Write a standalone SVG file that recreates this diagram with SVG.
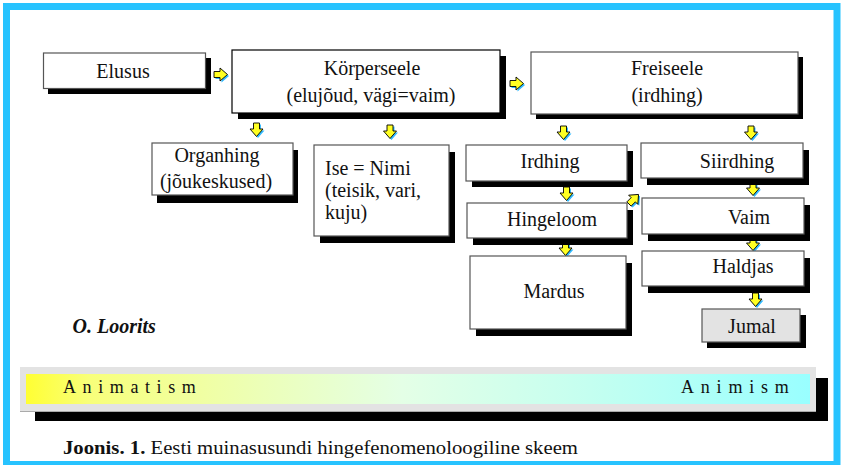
<svg xmlns="http://www.w3.org/2000/svg" xmlns:xlink="http://www.w3.org/1999/xlink" width="842" height="465" viewBox="0 0 842 465">
<style>
.box{fill:#fff;stroke:#555;stroke-width:1.2}
.boxk{fill:#fff;stroke:#000;stroke-width:1.2}
.sh{fill:#000}
.t{font-family:"Liberation Serif","Times New Roman",serif;font-size:20px;fill:#111}
.c{text-anchor:middle}
.ab{fill:#ffff22;stroke:#000;stroke-width:0.9;stroke-linejoin:miter}
.as{fill:#33bbff}
</style>
<defs>
<path id="arr" d="M-3,0 H3 V6 H6.5 L0,13.5 L-6.5,6 H-3 Z"/>
<linearGradient id="grad" x1="0" y1="0" x2="1" y2="0">
<stop offset="0" stop-color="#ffff33"/>
<stop offset="0.08" stop-color="#f8ff7a"/>
<stop offset="0.3" stop-color="#ecffb8"/>
<stop offset="0.48" stop-color="#e4ffe6"/>
<stop offset="0.72" stop-color="#c4fff0"/>
<stop offset="1" stop-color="#99ffff"/>
</linearGradient>
</defs>
<rect x="0" y="0" width="842" height="465" fill="#fff"/>
<rect x="6.5" y="6.5" width="830.5" height="458" fill="none" stroke="#27c3ff" stroke-width="7"/>

<g id="connectors">
<g transform="translate(214,74.5)"><use xlink:href="#arr" class="as" transform="translate(1.5,1.5) rotate(-90)"/><use xlink:href="#arr" class="ab" transform="rotate(-90)"/></g>
<g transform="translate(510,83.5)"><use xlink:href="#arr" class="as" transform="translate(1.5,1.5) rotate(-90)"/><use xlink:href="#arr" class="ab" transform="rotate(-90)"/></g>
<g transform="translate(256.5,123)"><use xlink:href="#arr" class="as" transform="translate(1.5,1.5)"/><use xlink:href="#arr" class="ab"/></g>
<g transform="translate(390,125)"><use xlink:href="#arr" class="as" transform="translate(1.5,1.5)"/><use xlink:href="#arr" class="ab"/></g>
<g transform="translate(563.5,126)"><use xlink:href="#arr" class="as" transform="translate(1.5,1.5)"/><use xlink:href="#arr" class="ab"/></g>
<g transform="translate(751,126)"><use xlink:href="#arr" class="as" transform="translate(1.5,1.5)"/><use xlink:href="#arr" class="ab"/></g>
<g transform="translate(566.5,187)"><use xlink:href="#arr" class="as" transform="translate(1.5,1.5)"/><use xlink:href="#arr" class="ab"/></g>
<g transform="translate(565.5,242)"><use xlink:href="#arr" class="as" transform="translate(1.5,1.5)"/><use xlink:href="#arr" class="ab"/></g>
<g transform="translate(753,182)"><use xlink:href="#arr" class="as" transform="translate(1.5,1.5)"/><use xlink:href="#arr" class="ab"/></g>
<g transform="translate(753,237)"><use xlink:href="#arr" class="as" transform="translate(1.5,1.5)"/><use xlink:href="#arr" class="ab"/></g>
<g transform="translate(755.5,293)"><use xlink:href="#arr" class="as" transform="translate(1.5,1.5)"/><use xlink:href="#arr" class="ab"/></g>
<g transform="translate(629,204)"><use xlink:href="#arr" class="as" transform="translate(1.5,1.5) rotate(-135)"/><use xlink:href="#arr" class="ab" transform="rotate(-135)"/></g>
</g>

<g id="elusus"><rect class="sh" x="48" y="58" width="163" height="36"/><rect class="box" x="43.5" y="53" width="162" height="35.5"/><text class="t c" x="123" y="78">Elusus</text></g>
<g id="korperseele"><rect class="sh" x="238" y="56" width="268" height="63"/><rect class="boxk" x="232" y="50" width="268" height="63"/><text class="t c" x="372" y="75">Körperseele</text><text class="t c" x="371" y="102">(elujõud, vägi=vaim)</text></g>
<g id="freiseele"><rect class="sh" x="536" y="57" width="267" height="62"/><rect class="box" x="531" y="52" width="267" height="62"/><text class="t c" x="667" y="75">Freiseele</text><text class="t c" x="667" y="102">(irdhing)</text></g>
<g id="organhing"><rect class="sh" x="157" y="150" width="141" height="53"/><rect class="box" x="152" y="143" width="141" height="52"/><text class="t c" x="217" y="162">Organhing</text><text class="t c" x="216" y="188">(jõukeskused)</text></g>
<g id="ise"><rect class="sh" x="320" y="152" width="135" height="91"/><rect class="box" x="314" y="145" width="135" height="91"/><text class="t" x="325" y="175">Ise = Nimi</text><text class="t" x="325" y="197">(teisik, vari,</text><text class="t" x="325" y="219">kuju)</text></g>
<g id="irdhing"><rect class="sh" x="472" y="151" width="161" height="36"/><rect class="box" x="466" y="145" width="161" height="36"/><text class="t c" x="550" y="168">Irdhing</text></g>
<g id="hingeloom"><rect class="sh" x="473" y="210" width="160" height="35"/><rect class="box" x="467" y="203" width="160" height="35"/><text class="t c" x="552" y="226">Hingeloom</text></g>
<g id="mardus"><rect class="sh" x="476" y="263" width="156" height="73"/><rect class="box" x="470" y="256" width="156" height="73"/><text class="t c" x="554" y="298">Mardus</text></g>
<g id="siirdhing"><rect class="sh" x="647" y="150" width="162" height="35"/><rect class="box" x="641" y="143" width="162" height="35"/><text class="t c" x="737" y="168">Siirdhing</text></g>
<g id="vaim"><rect class="sh" x="648" y="205" width="162" height="36"/><rect class="box" x="642" y="198" width="162" height="36"/><text class="t c" x="749" y="224">Vaim</text></g>
<g id="haldjas"><rect class="sh" x="648" y="258" width="162" height="35"/><rect class="box" x="642" y="251" width="162" height="35"/><text class="t c" x="743" y="273">Haldjas</text></g>
<g id="jumal"><rect class="sh" x="707" y="315" width="99" height="33"/><rect class="box" x="702" y="309" width="98" height="33" style="fill:#e3e3e3"/><text class="t c" x="752" y="333">Jumal</text></g>

<text x="72.5" y="333" style="font-family:'Liberation Serif','Times New Roman',serif;font-size:20px;font-weight:bold;font-style:italic;fill:#111">O. Loorits</text>

<g id="scale">
<rect x="35" y="378" width="793" height="43" fill="#000"/>
<rect x="20" y="367" width="796" height="45" fill="#e3e3e3"/>
<line x1="20" y1="411.5" x2="816" y2="411.5" stroke="#aaa" stroke-width="1"/>
<rect x="26" y="374" width="784" height="30" fill="url(#grad)"/>
<text x="63" y="393" style="font-family:'Liberation Serif','Times New Roman',serif;font-size:18px;letter-spacing:6.6px;fill:#111">Animatism</text>
<text x="681" y="393" style="font-family:'Liberation Serif','Times New Roman',serif;font-size:18px;letter-spacing:6.8px;fill:#111">Animism</text>
</g>

<text x="63" y="454" textLength="515" lengthAdjust="spacingAndGlyphs" style="font-family:'Liberation Serif','Times New Roman',serif;font-size:19px;fill:#111"><tspan font-weight="bold">Joonis. 1.</tspan> Eesti muinasusundi hingefenomenoloogiline skeem</text>
</svg>
